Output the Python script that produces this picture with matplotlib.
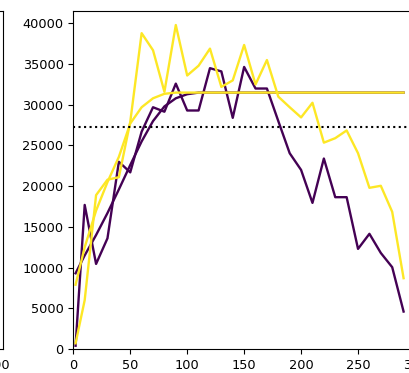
import matplotlib
matplotlib.use("Agg")
import matplotlib.pyplot as plt

# sample positions along the run
steps = [2, 10, 20, 30, 40, 50, 60, 70, 80, 90, 100, 110, 120, 130, 140,
         150, 160, 170, 180, 190, 200, 210, 220, 230, 240, 250, 260, 270, 280, 290]

# raw series
purple_raw = [400, 17700, 10450, 13600, 23000, 21700, 26700, 29700, 29150, 32600,
              29300, 29300, 34500, 34100, 28400, 34650, 32000, 32000, 28000, 24050,
              22000, 17950, 23400, 18650, 18650, 12300, 14150, 11800, 10050, 4600]
yellow_raw = [700, 6000, 18900, 20800, 21100, 27900, 38800, 36700, 31600, 39800,
              33600, 34800, 36900, 32200, 33000, 37350, 32500, 35500, 31000, 29700,
              28450, 30250, 25350, 25900, 26850, 24050, 19800, 20050, 16850, 8700]

# smoothed series
purple_smooth = [9300, 11500, 14000, 16700, 19600, 22600, 25500, 28000, 29800, 30800,
                 31300, 31500, 31500, 31500, 31500, 31500, 31500, 31500, 31500, 31500,
                 31500, 31500, 31500, 31500, 31500, 31500, 31500, 31500, 31500, 31500]
yellow_smooth = [7900, 12500, 17000, 20500, 23600, 27700, 29700, 30800, 31350, 31500,
                 31500, 31500, 31500, 31500, 31500, 31500, 31500, 31500, 31500, 31500,
                 31500, 31500, 31500, 31500, 31500, 31500, 31500, 31500, 31500, 31500]

reference_level = 27250

PURPLE = "#440154"
YELLOW = "#fde725"

plt.rcParams["font.family"] = ["DejaVu Sans"]
plt.rcParams["font.size"] = 9.3

fig = plt.figure(figsize=(4.10, 3.73), dpi=100)

W, H = 410.0, 373.0
ax_w_px = 346.8
bottom = (H - 349.0) / H
height = (349.0 - 10.7) / H

# neighbouring panel on the left
ax_left = fig.add_axes([(3.0 - ax_w_px) / W, bottom, ax_w_px / W, height])
ax_left.set_xlim(0, 304.5)
ax_left.set_ylim(0, 41560)
ax_left.set_xticks([300])
ax_left.set_yticks([])

ax = fig.add_axes([73.3 / W, bottom, ax_w_px / W, height])
lw = 1.7
ax.plot(steps, purple_smooth, color=PURPLE, lw=lw)
ax.plot(steps, purple_raw, color=PURPLE, lw=lw)
ax.plot(steps, yellow_raw, color=YELLOW, lw=lw)
ax.plot(steps, yellow_smooth, color=YELLOW, lw=lw)
ax.axhline(reference_level, color="black", ls=":", lw=1.5)

ax.set_xlim(0, 304.5)
ax.set_ylim(0, 41560)
ax.set_xticks([0, 50, 100, 150, 200, 250, 300])
ax.set_yticks(range(0, 40001, 5000))

fig.savefig("out.png", dpi=100)
